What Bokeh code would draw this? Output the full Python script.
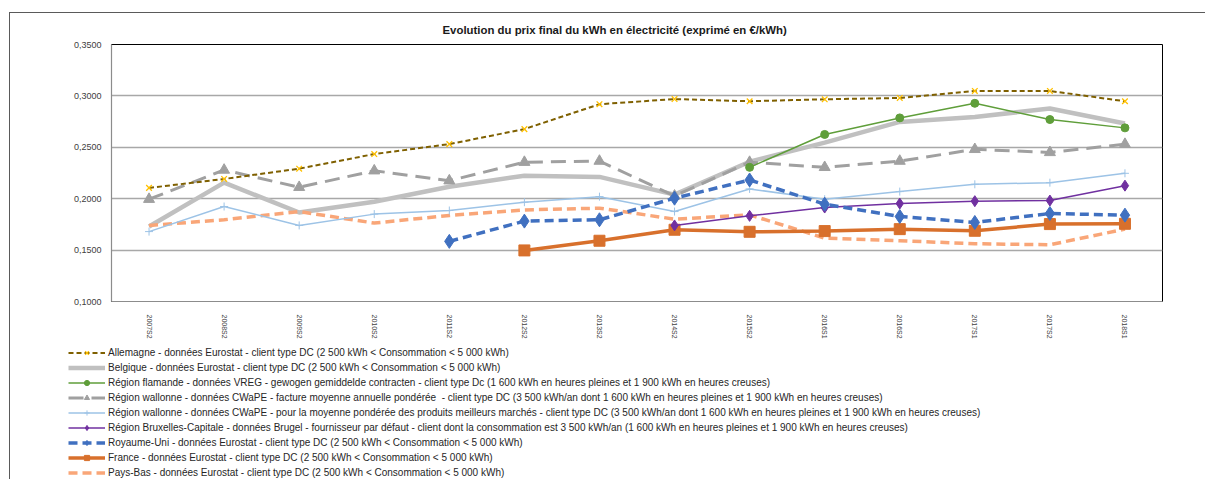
from bokeh.plotting import figure
from bokeh.layouts import column
from bokeh.models import (FactorRange, Range1d, FixedTicker, CustomJSTickFormatter,
                          Legend, LegendItem, ColumnDataSource, Title)
from bokeh.embed import file_html
from bokeh.resources import INLINE

NaN = float("nan")

categories = ["2007S2", "2008S2", "2009S2", "2010S2", "2011S2", "2012S2", "2013S2",
              "2014S2", "2015S2", "2016S1", "2016S2", "2017S1", "2017S2", "2018S1"]

allemagne = [0.2105, 0.2192, 0.2292, 0.2434, 0.2531, 0.2677, 0.2919, 0.2969, 0.2948,
             0.2967, 0.2980, 0.3048, 0.3048, 0.2948]
belgique = [0.1730, 0.2156, 0.1866, 0.1970, 0.2117, 0.2224, 0.2212, 0.2040, 0.2360,
            0.2545, 0.2747, 0.2795, 0.2877, 0.2732]
flamande = [NaN, NaN, NaN, NaN, NaN, NaN, NaN, NaN, 0.2305, 0.2625, 0.2786, 0.2928,
            0.2770, 0.2689]
wallonne_facture = [0.1995, 0.2279, 0.2111, 0.2272, 0.2175, 0.2355, 0.2366, 0.2027,
                    0.2355, 0.2305, 0.2366, 0.2480, 0.2450, 0.2530]
wallonne_marches = [0.1680, 0.1924, 0.1740, 0.1850, 0.1885, 0.1966, 0.2020, 0.1875,
                    0.2095, 0.1995, 0.2069, 0.2140, 0.2156, 0.2247]
bruxelles = [NaN, NaN, NaN, NaN, NaN, NaN, NaN, 0.1740, 0.1833, 0.1914, 0.1953, 0.1976,
             0.1982, 0.2127]
royaume_uni = [NaN, NaN, NaN, NaN, 0.1585, 0.1782, 0.1795, 0.2005, 0.2182, 0.1947,
               0.1827, 0.1769, 0.1856, 0.1840]
france = [NaN, NaN, NaN, NaN, NaN, 0.1497, 0.1591, 0.1698, 0.1678, 0.1685, 0.1704,
          0.1688, 0.1753, 0.1756]
pays_bas = [0.1740, 0.1795, 0.1875, 0.1763, 0.1837, 0.1891, 0.1908, 0.1801, 0.1843,
            0.1617, 0.1591, 0.1562, 0.1552, 0.1704]

y_ticks = [0.10, 0.15, 0.20, 0.25, 0.30, 0.35]

labels = [
    "Allemagne - données Eurostat - client type DC (2 500 kWh < Consommation < 5 000 kWh)",
    "Belgique - données Eurostat - client type DC (2 500 kWh < Consommation < 5 000 kWh)",
    "Région flamande - données VREG - gewogen gemiddelde contracten - client type Dc (1 600 kWh en heures pleines et 1 900 kWh en heures creuses)",
    "Région wallonne - données CWaPE - facture moyenne annuelle pondérée  - client type DC (3 500 kWh/an dont 1 600 kWh en heures pleines et 1 900 kWh en heures creuses)",
    "Région wallonne - données CWaPE - pour la moyenne pondérée des produits meilleurs marchés - client type DC (3 500 kWh/an dont 1 600 kWh en heures pleines et 1 900 kWh en heures creuses)",
    "Région Bruxelles-Capitale - données Brugel - fournisseur par défaut - client dont la consommation est 3 500 kWh/an (1 600 kWh en heures pleines et 1 900 kWh en heures creuses)",
    "Royaume-Uni - données Eurostat - client type DC (2 500 kWh < Consommation < 5 000 kWh)",
    "France - données Eurostat - client type DC (2 500 kWh < Consommation < 5 000 kWh)",
    "Pays-Bas - données Eurostat - client type DC (2 500 kWh < Consommation < 5 000 kWh)",
]

FONT = "Liberation Sans"

x_range = FactorRange(*categories)

p = figure(x_range=x_range, y_range=Range1d(0.10, 0.35),
           width=1195, height=328, output_backend="svg", toolbar_location=None,
           min_border_left=101, min_border_right=43, min_border_top=31,
           min_border_bottom=39, background_fill_color="white",
           border_fill_color="white")
p.frame_align = False

p.title = Title(text="Evolution du prix final du kWh en électricité (exprimé en €/kWh)",
                align="left", offset=331, text_font=FONT, text_font_size="11.4px",
                text_font_style="bold", text_color="#1a1a1a", standoff=17)

p.outline_line_color = "#000000"
p.outline_line_width = 1

p.xgrid.grid_line_color = None
p.ygrid.grid_line_color = "#a8a8a8"
p.ygrid.grid_line_width = 1.3
p.yaxis.ticker = FixedTicker(ticks=y_ticks)
p.yaxis.formatter = CustomJSTickFormatter(code="return tick.toFixed(4).replace('.', ',');")
for ax in (p.xaxis[0], p.yaxis[0]):
    ax.axis_line_color = "#8c8c8c"
    ax.axis_line_width = 1.2
    ax.major_tick_line_color = None
    ax.minor_tick_line_color = None
    ax.major_label_text_font = FONT
    ax.major_label_text_color = "#404040"
p.yaxis.major_label_text_font_size = "9px"
p.yaxis.major_label_standoff = 4
p.xaxis.major_label_text_font_size = "7px"
p.xaxis.major_label_orientation = "vertical"
p.xaxis.major_label_standoff = 7

# legend strip below the chart (same series, kept outside its visible y window)
p2 = figure(x_range=x_range, y_range=Range1d(10, 11), width=1195, height=138,
            output_backend="svg", toolbar_location=None, min_border=0,
            x_axis_location=None, y_axis_location=None,
            background_fill_color="white", border_fill_color="white")
p2.frame_align = False
p2.outline_line_color = None
p2.grid.visible = False

src = ColumnDataSource(dict(x=categories, allemagne=allemagne, belgique=belgique,
                            flamande=flamande, wf=wallonne_facture, wm=wallonne_marches,
                            bru=bruxelles, uk=royaume_uni, fr=france, nl=pays_bas))

# (column, line style, marker style or None)
series = [
    ("belgique", dict(line_color="#c0c0c0", line_width=4.5), None),
    ("nl", dict(line_color="#f9a678", line_width=3.5, line_dash="9 5"), None),
    ("wf", dict(line_color="#a0a0a0", line_width=3, line_dash="15 8"),
     dict(marker="triangle", size=11, fill_color="#a0a0a0", line_color="#a0a0a0")),
    ("wm", dict(line_color="#9dc3e6", line_width=1.5),
     dict(marker="cross", size=8, line_color="#9dc3e6", line_width=1)),
    ("fr", dict(line_color="#d8702c", line_width=3.5),
     dict(marker="square", size=11, fill_color="#d8702c", line_color="#d8702c")),
    ("bru", dict(line_color="#7030a0", line_width=1.5),
     dict(marker="diamond", size=11, fill_color="#7030a0", line_color="#7030a0")),
    ("uk", dict(line_color="#4070c0", line_width=3.5, line_dash="9 5"),
     dict(marker="diamond", size=14, fill_color="#4070c0", line_color="#4070c0")),
    ("flamande", dict(line_color="#5f9e3a", line_width=1.5),
     dict(marker="circle", size=8, fill_color="#5f9e3a", line_color="#5f9e3a")),
    ("allemagne", dict(line_color="#7f6000", line_width=2, line_dash="5 3"),
     dict(marker="x", size=8, line_color="#ffc000", line_width=1.3)),
]

legend_renderers = {}
for col, lstyle, mstyle in series:
    for fig in (p, p2):
        rs = [fig.line("x", col, source=src, **lstyle)]
        if mstyle is not None:
            rs.append(fig.scatter("x", col, source=src, **mstyle))
        if fig is p2:
            legend_renderers[col] = rs

legend_order = ["allemagne", "belgique", "flamande", "wf", "wm", "bru", "uk", "fr", "nl"]
legend = Legend(items=[LegendItem(label=lab, renderers=legend_renderers[c])
                       for lab, c in zip(labels, legend_order)],
                location=(58, 0), orientation="vertical", padding=0, margin=0,
                spacing=2, glyph_width=37, glyph_height=13, label_height=13,
                label_standoff=3, label_text_font=FONT, label_text_font_size="10px",
                label_text_color="#262626", border_line_alpha=0,
                background_fill_alpha=0)
p2.add_layout(legend)

layout = column(p, p2, spacing=0,
                styles={"border-top": "1px solid #5a5a5a",
                        "border-left": "1px solid #5a5a5a",
                        "margin-top": "12px", "margin-left": "9px"})

open("out.html", "w").write(file_html(layout, INLINE))
